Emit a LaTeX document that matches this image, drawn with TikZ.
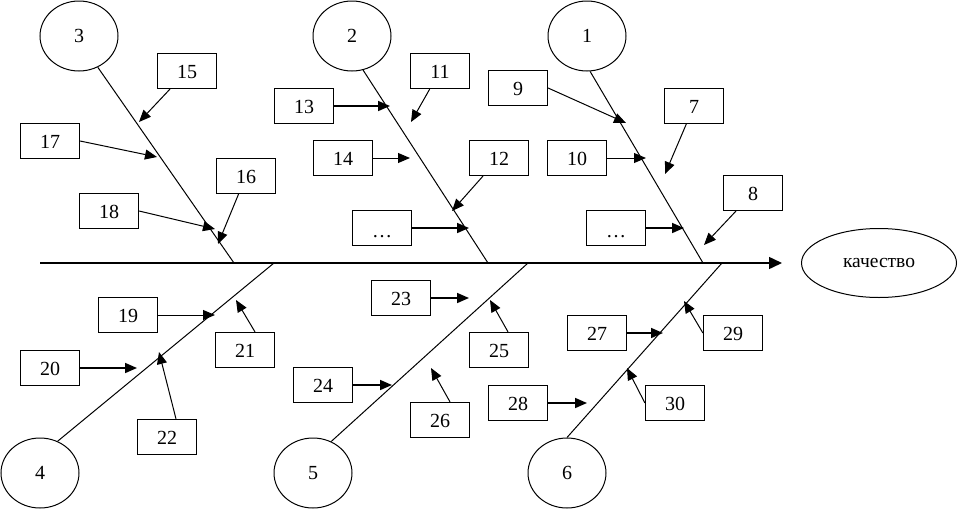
\documentclass[tikz,border=0pt]{standalone}
\usepackage{fontspec}
\setmainfont{Liberation Serif}
\usetikzlibrary{shapes.geometric,arrows.meta}
\begin{document}
\begin{tikzpicture}[x=1pt,y=-1pt,
  every node/.style={font=\fontsize{20}{24}\selectfont},
  box/.style={draw, line width=1.2pt, minimum width=59pt, minimum height=35pt, inner sep=0pt, text height=14pt, text depth=0pt},
  circ/.style={draw, ellipse, line width=1pt, minimum width=78pt, minimum height=70pt, inner sep=0pt},
  bone/.style={line width=1pt},
  arr/.style={line width=1pt, -{Triangle[length=12pt,width=10pt]}},
  barr/.style={line width=1.7pt, -{Triangle[length=12pt,width=10pt]}}]
\useasboundingbox (0,0) rectangle (959,509);
% heads
\node[circ] (c3) at (79,36) {3};
\node[circ] (c2) at (352,36) {2};
\node[circ] (c1) at (587,36) {1};
\node[circ] (c4) at (40,473) {4};
\node[circ] (c5) at (313,473) {5};
\node[circ] (c6) at (567,473) {6};
\node[draw, ellipse, line width=1pt, minimum width=155pt, minimum height=69pt, inner sep=0pt, font=\fontsize{19.5}{22}\selectfont] (q) at (879,263) {качество};
% spine
\coordinate (s0) at (40,263);
\coordinate (s1) at (782,263);
\draw[line width=1.5pt, -{Triangle[length=13pt,width=12pt]}] (s0) -- (s1);
% bone joints
\coordinate (j3) at (234,263);
\coordinate (j2) at (488,263);
\coordinate (j1) at (703,263);
\coordinate (j4) at (274,263);
\coordinate (j5) at (528,263);
\coordinate (j6) at (722,263);
\draw[bone] (c3.-59) -- (j3);
\draw[bone] (c2.-72) -- (j2);
\draw[bone] (c1.-85) -- (j1);
\draw[bone] (c4.61) -- (j4);
\draw[bone] (c5.60) -- (j5);
\draw[bone] (c6.north) -- (j6);
% boxes
\node[box] (b15) at (187,71) {15};
\node[box] (b17) at (50,141) {17};
\node[box] (b16) at (246,176) {16};
\node[box] (b18) at (109,211) {18};
\node[box] (b13) at (304,106) {13};
\node[box] (b11) at (440,71) {11};
\node[box] (b14) at (343,158) {14};
\node[box] (b12) at (499,158) {12};
\node[box] (bd1) at (382,228) {\raisebox{-2pt}{…}};
\node[box] (b9) at (518,88) {9};
\node[box] (b7) at (694,106) {7};
\node[box] (b10) at (577,158) {10};
\node[box] (b8) at (753,193) {8};
\node[box] (bd2) at (616,228) {\raisebox{-2pt}{…}};
\node[box] (b19) at (128,315) {19};
\node[box] (b20) at (50,368) {20};
\node[box] (b21) at (245,350) {21};
\node[box] (b22) at (167,437) {22};
\node[box] (b23) at (401,298) {23};
\node[box] (b25) at (499,350) {25};
\node[box] (b24) at (323,385) {24};
\node[box] (b26) at (440,420) {26};
\node[box] (b27) at (597,333) {27};
\node[box] (b29) at (733,333) {29};
\node[box] (b28) at (518,403) {28};
\node[box] (b30) at (675,403) {30};
% arrow tips
\coordinate (t15) at (139,122);
\coordinate (t17) at (157,157);
\coordinate (t16) at (218,244);
\coordinate (t18) at (215,229);
\coordinate (t13) at (390,106);
\coordinate (t11) at (411,122);
\coordinate (t14) at (410,158);
\coordinate (t12) at (452,211);
\coordinate (td1) at (469,228);
\coordinate (t9) at (626,123);
\coordinate (t10) at (646,158);
\coordinate (t7) at (665,174);
\coordinate (t8) at (704,245);
\coordinate (td2) at (684,228);
\coordinate (t19) at (215,315);
\coordinate (t20) at (137,368);
\coordinate (t21) at (236,300);
\coordinate (t22) at (159,352);
\coordinate (t23) at (469,298);
\coordinate (t25) at (490,300);
\coordinate (t24) at (392,385);
\coordinate (t26) at (431,368);
\coordinate (t27) at (663,333);
\coordinate (t29) at (684,301);
\coordinate (t28) at (587,403);
\coordinate (t30) at (627,368);
% arrows
\draw[arr] (b15) -- (t15);
\draw[arr] (b17.east) -- (t17);
\draw[arr] (b16) -- (t16);
\draw[arr] (b18.east) -- (t18);
\draw[barr] (b13) -- (t13);
\draw[arr] (b11) -- (t11);
\draw[arr] (b14) -- (t14);
\draw[arr] (b12) -- (t12);
\draw[barr] (bd1) -- (td1);
\draw[arr] (b9.east) -- (t9);
\draw[arr] (b10) -- (t10);
\draw[arr] (b7) -- (t7);
\draw[arr] (b8) -- (t8);
\draw[barr] (bd2) -- (td2);
\draw[arr] (b19) -- (t19);
\draw[barr] (b20) -- (t20);
\draw[arr] ([xshift=10pt]b21.north) -- (t21);
\draw[arr] ([xshift=9pt]b22.north) -- (t22);
\draw[barr] (b23) -- (t23);
\draw[arr] ([xshift=9pt]b25.north) -- (t25);
\draw[barr] (b24) -- (t24);
\draw[arr] ([xshift=10pt]b26.north) -- (t26);
\draw[barr] (b27) -- (t27);
\draw[arr] (b29.west) -- (t29);
\draw[barr] (b28) -- (t28);
\draw[arr] (b30.west) -- (t30);
\end{tikzpicture}
\end{document}
